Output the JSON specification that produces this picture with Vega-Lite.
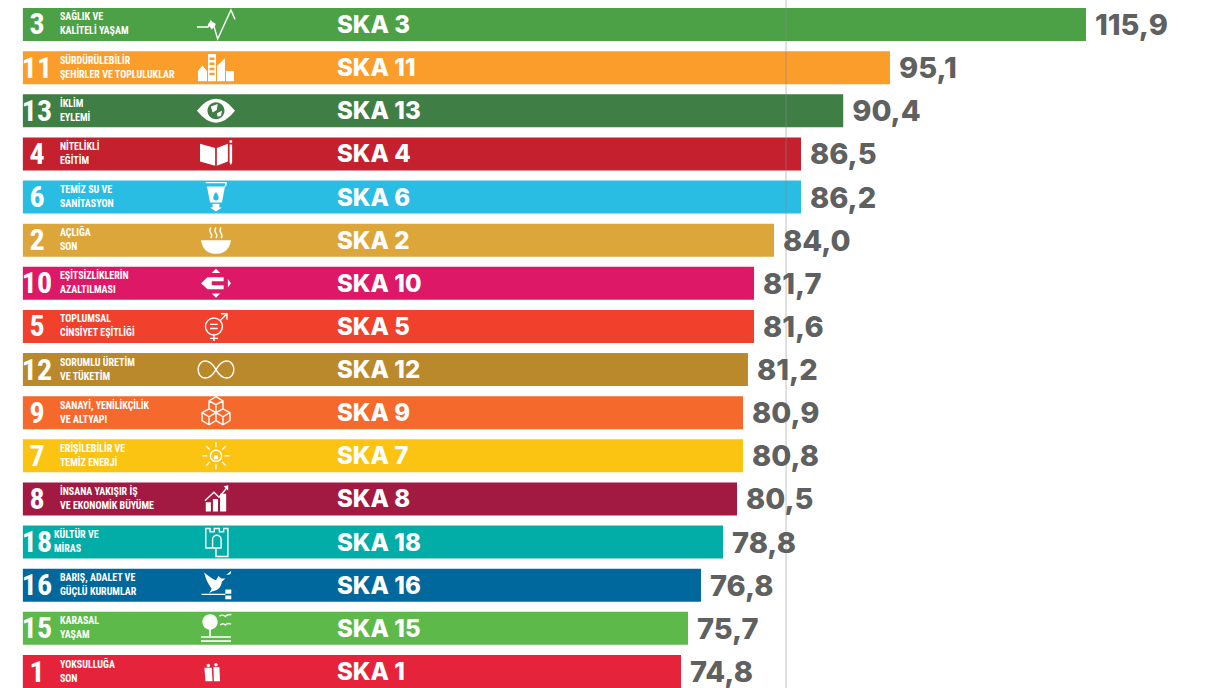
{"$schema":"https://vega.github.io/schema/vega-lite/v6.json","width":1217,"height":688,"padding":0,"autosize":{"type":"none"},"background":"white","config":{"view":{"stroke":null},"locale":{"number":{"decimal":",","thousands":".","grouping":[3],"currency":["","₺"]}}},"data":{"values":[{"goal":"3","name":"SAĞLIK VE\nKALİTELİ YAŞAM","ska":"SKA 3","bar":114.12,"value":115.9},{"goal":"11","name":"SÜRDÜRÜLEBİLİR\nŞEHİRLER VE TOPLULUKLAR","ska":"SKA 11","bar":95.09,"value":95.1},{"goal":"13","name":"İKLİM\nEYLEMİ","ska":"SKA 13","bar":90.55,"value":90.4},{"goal":"4","name":"NİTELİKLİ\nEĞİTİM","ska":"SKA 4","bar":86.45,"value":86.5},{"goal":"6","name":"TEMİZ SU VE\nSANİTASYON","ska":"SKA 6","bar":86.45,"value":86.2},{"goal":"2","name":"AÇLIĞA\nSON","ska":"SKA 2","bar":83.83,"value":84.0},{"goal":"10","name":"EŞİTSİZLİKLERİN\nAZALTILMASI","ska":"SKA 10","bar":81.89,"value":81.7},{"goal":"5","name":"TOPLUMSAL\nCİNSİYET EŞİTLİĞİ","ska":"SKA 5","bar":81.89,"value":81.6},{"goal":"12","name":"SORUMLU ÜRETİM\nVE TÜKETİM","ska":"SKA 12","bar":81.3,"value":81.2},{"goal":"9","name":"SANAYİ, YENİLİKÇİLİK\nVE ALTYAPI","ska":"SKA 9","bar":80.82,"value":80.9},{"goal":"7","name":"ERİŞİLEBİLİR VE\nTEMİZ ENERJİ","ska":"SKA 7","bar":80.82,"value":80.8},{"goal":"8","name":"İNSANA YAKIŞIR İŞ\nVE EKONOMİK BÜYÜME","ska":"SKA 8","bar":80.24,"value":80.5},{"goal":"18","name":"KÜLTÜR VE\nMİRAS","ska":"SKA 18","bar":78.88,"value":78.8},{"goal":"16","name":"BARIŞ, ADALET VE\nGÜÇLÜ KURUMLAR","ska":"SKA 16","bar":76.74,"value":76.8},{"goal":"15","name":"KARASAL\nYAŞAM","ska":"SKA 15","bar":75.48,"value":75.7},{"goal":"1","name":"YOKSULLUĞA\nSON","ska":"SKA 1","bar":74.8,"value":74.8}]},"encoding":{"y":{"field":"ska","type":"nominal","sort":null,"axis":null,"scale":{"range":[8,688],"paddingInner":0.235,"paddingOuter":0}}},"resolve":{"scale":{"shape":"independent"}},"layer":[{"mark":{"type":"bar","cornerRadius":0},"encoding":{"x":{"field":"bar","type":"quantitative","axis":null,"scale":{"domain":[8.68,126.84],"zero":false,"nice":false}},"x2":{"datum":10.9},"color":{"field":"goal","type":"nominal","legend":null,"scale":{"domain":["3","11","13","4","6","2","10","5","12","9","7","8","18","16","15","1"],"range":["#4CA146","#FB9D2A","#3F7E44","#C4202E","#29BDE3","#DDA63A","#DD1867","#F1402B","#BA892B","#F5692D","#FBC412","#A21942","#02ADA8","#00689D","#5CB94A","#E5243B"]}}}},{"data":{"values":[{"ref":85}]},"mark":{"type":"rule","color":"#8a8a8a","opacity":0.35,"strokeWidth":1.5},"encoding":{"y":null,"x":{"field":"ref","type":"quantitative","axis":null,"scale":{"domain":[8.68,126.84],"zero":false,"nice":false}}}},{"mark":{"type":"text","font":"Roboto Condensed, Open Sans Condensed, Noto Sans Condensed, DejaVu Sans Condensed, Roboto","fontWeight":"bold","fontSize":30,"color":"white","align":"center","baseline":"middle","dy":1},"encoding":{"x":{"datum":12.27,"type":"quantitative","axis":null,"scale":{"domain":[8.68,126.84],"zero":false,"nice":false}},"text":{"field":"goal"}}},{"transform":[{"filter":"datum.goal != '18'"}],"mark":{"type":"text","font":"Roboto Condensed, Open Sans Condensed, Noto Sans Condensed, DejaVu Sans Condensed, Roboto","fontWeight":"bold","fontSize":10,"lineHeight":14,"lineBreak":"\n","color":"white","align":"left","baseline":"middle","dy":-7},"encoding":{"x":{"datum":14.5,"type":"quantitative","axis":null,"scale":{"domain":[8.68,126.84],"zero":false,"nice":false}},"text":{"field":"name"}}},{"transform":[{"filter":"datum.goal == '18'"}],"mark":{"type":"text","font":"Roboto Condensed, Open Sans Condensed, Noto Sans Condensed, DejaVu Sans Condensed, Roboto","fontWeight":"bold","fontSize":10,"lineHeight":14,"lineBreak":"\n","color":"white","align":"left","baseline":"middle","dx":-6,"dy":-7},"encoding":{"x":{"datum":14.5,"type":"quantitative","axis":null,"scale":{"domain":[8.68,126.84],"zero":false,"nice":false}},"text":{"field":"name"}}},{"mark":{"type":"point","filled":true,"color":"white","opacity":1,"size":1156,"strokeWidth":0},"encoding":{"x":{"datum":29.65,"type":"quantitative","axis":null,"scale":{"domain":[8.68,126.84],"zero":false,"nice":false}},"shape":{"field":"goal","type":"nominal","legend":null,"scale":{"domain":["3","11","13","4","6","2","10","5","12","9","7","8","18","16","15","1"],"range":["M-0.24 0.3 L-0.45 0.05 C-0.5 -0.1 -0.28 -0.2 -0.24 -0.05 C-0.2 -0.2 0.02 -0.1 -0.03 0.05Z","M-1.06 0.8 L-1.06 0.2 L-0.8 -0.12 L-0.53 0.2 L-0.53 0.8Z M-0.47 0.8 L-0.47 -0.8 L0 -0.8 L0 0.8Z M-0.38 -0.6 L-0.38 -0.45 L-0.09 -0.45 L-0.09 -0.6Z M-0.38 -0.3 L-0.38 -0.15 L-0.09 -0.15 L-0.09 -0.3Z M-0.38 0 L-0.38 0.15 L-0.09 0.15 L-0.09 0Z M-0.38 0.3 L-0.38 0.45 L-0.09 0.45 L-0.09 0.3Z M0.06 0.8 L0.06 -0.1 L0.53 -0.55 L0.53 0.8Z M0.59 0.8 L0.59 0.2 L1.06 0.2 L1.06 0.8Z","M-1.12 0 Q0 -1.4 1.12 0 Q0 1.4 -1.12 0Z M-0.5 0 A0.5 0.5 0 1 0 0.5 0 A0.5 0.5 0 1 0 -0.5 0Z M-0.3 -0.25 L0.1 -0.4 L0.05 -0.05 L-0.2 0.1Z M0.05 0.15 L0.35 0 L0.3 0.3 L0.1 0.35Z","M-0.94 -0.6 L-0.05 -0.35 L-0.05 0.7 L-0.94 0.45Z M0.05 -0.35 L0.7 -0.6 L0.7 0.45 L0.05 0.7Z M0.8 -0.55 L0.95 -0.55 L0.95 0.5 L0.875 0.65 L0.8 0.5Z M0.8 -0.8 L0.95 -0.8 L0.95 -0.65 L0.8 -0.65Z","M-0.53 -0.62 L0.53 -0.62 L0.35 0.32 L-0.35 0.32Z M0 -0.3 C-0.2 -0.05 -0.22 0.2 0 0.2 C0.22 0.2 0.2 -0.05 0 -0.3Z M-0.2 0.4 L0.2 0.4 L0.2 0.62 L0.35 0.62 L0 0.85 L-0.35 0.62 L-0.2 0.62Z","M-0.88 0 L0.88 0 C0.8 0.6 0.4 0.8 0 0.8 C-0.4 0.8 -0.8 0.6 -0.88 0Z","M-0.25 -0.6 L0 -0.85 L0.25 -0.6Z M-0.25 0.6 L0.25 0.6 L0 0.85Z M0.7 -0.25 L0.88 0 L0.7 0.25Z M-0.88 0 L-0.5 -0.35 L0.45 -0.35 L0.45 -0.12 L-0.25 -0.12 L-0.25 0.12 L0.45 0.12 L0.45 0.35 L-0.5 0.35Z","M0 0","M0 0","M0 0","M-0.12 -0.02 L0.12 -0.02 L0.12 0.2 L-0.12 0.2Z","M-0.6 0.73 L-0.6 0.2 L-0.3 0.2 L-0.3 0.73Z M-0.18 0.73 L-0.18 0 L0.12 0 L0.12 0.73Z M0.24 0.73 L0.24 -0.3 L0.6 -0.3 L0.6 0.73Z M0.45 -0.75 L0.72 -0.8 L0.72 -0.5Z","M0 0","M-0.7 -0.75 C-0.4 -0.5 -0.2 -0.35 0 -0.3 L0.15 -0.55 L0.3 -0.4 L0.55 -0.4 L0.35 -0.2 C0.3 0.2 0 0.35 -0.2 0.35 L-0.4 0.45 L-0.25 0.2 C-0.5 -0.1 -0.6 -0.4 -0.7 -0.75Z M-0.85 0.5 L0.55 0.5 L0.55 0.58 L-0.85 0.58Z M0.55 0.25 L0.9 0.25 L0.9 0.5 L0.55 0.5Z M0.55 0.6 L0.9 0.6 L0.9 0.82 L0.55 0.82Z M0.6 -0.6 L0.9 -0.85 L0.85 -0.65Z","M-0.8 -0.38 A0.45 0.45 0 1 1 0.1 -0.38 A0.45 0.45 0 1 1 -0.8 -0.38Z M-0.4 -0.1 L-0.3 -0.1 L-0.3 0.45 L-0.4 0.45Z M-0.88 0.47 L0.88 0.47 L0.88 0.55 L-0.88 0.55Z M-0.88 0.7 L0.88 0.7 L0.88 0.8 L-0.88 0.8Z","M-0.55 -0.35 A0.1 0.1 0 1 1 -0.35 -0.35 A0.1 0.1 0 1 1 -0.55 -0.35Z M-0.68 -0.22 L-0.25 -0.22 L-0.2 0.58 L-0.62 0.58Z M-0.1 -0.4 A0.1 0.1 0 1 1 0.1 -0.4 A0.1 0.1 0 1 1 -0.1 -0.4Z M-0.15 -0.26 L0.2 -0.26 L0.24 0.58 L-0.12 0.58Z"]}}}},{"mark":{"type":"point","filled":false,"color":"white","opacity":1,"size":1156,"strokeWidth":1.4},"encoding":{"x":{"datum":29.65,"type":"quantitative","axis":null,"scale":{"domain":[8.68,126.84],"zero":false,"nice":false}},"shape":{"field":"goal","type":"nominal","legend":null,"scale":{"domain":["3","11","13","4","6","2","10","5","12","9","7","8","18","16","15","1"],"range":["M-1.12 0.15 L-0.47 0.15 L-0.3 -0.2 L-0.15 0 L0.1 0.85 L0.88 -0.85 L1.12 -0.3","M0 0","M0 0","M0 0","M-0.6 -0.85 L0.6 -0.85 L0.55 -0.62","M-0.3 -0.75 Q-0.42 -0.55 -0.3 -0.4 Q-0.2 -0.28 -0.3 -0.12 M0 -0.75 Q-0.12 -0.55 0 -0.4 Q0.1 -0.28 0 -0.12 M0.3 -0.75 Q0.18 -0.55 0.3 -0.4 Q0.4 -0.28 0.3 -0.12","M0 0","M-0.62 0 A0.5 0.5 0 1 1 0.38 0 A0.5 0.5 0 1 1 -0.62 0Z M-0.35 -0.12 L0.1 -0.12 M-0.35 0.12 L0.1 0.12 M-0.12 0.5 L-0.12 0.85 M-0.35 0.7 L0.12 0.7 M0.25 -0.35 L0.65 -0.75 M0.3 -0.75 L0.65 -0.75 L0.65 -0.4","M0 0 C-0.25 -0.45 -0.5 -0.5 -0.65 -0.5 C-0.9 -0.5 -1.05 -0.25 -1.05 0 C-1.05 0.25 -0.9 0.5 -0.65 0.5 C-0.5 0.5 -0.25 0.45 0 0 C0.25 -0.45 0.5 -0.5 0.65 -0.5 C0.9 -0.5 1.05 -0.25 1.05 0 C1.05 0.25 0.9 0.5 0.65 0.5 C0.5 0.5 0.25 0.45 0 0Z","M0 -0.94 L0.41 -0.7 L0.41 -0.23 L0 0 L-0.41 -0.23 L-0.41 -0.7Z M-0.41 -0.7 L0 -0.47 L0.41 -0.7 M0 -0.47 L0 0 M-0.41 -0.23 L-0.82 0 L-0.82 0.47 L-0.41 0.71 L0 0.47 L0 0 M-0.82 0 L-0.41 0.24 L0 0 M-0.41 0.24 L-0.41 0.71 M0.41 -0.23 L0.82 0 L0.82 0.47 L0.41 0.71 L0 0.47 M0 0 L0.41 0.24 L0.82 0 M0.41 0.24 L0.41 0.71","M-0.33 0 A0.33 0.33 0 1 1 0.33 0 A0.33 0.33 0 1 1 -0.33 0Z M0 -0.8 L0 -0.5 M0 0.5 L0 0.8 M-0.8 0 L-0.5 0 M0.5 0 L0.8 0 M-0.57 -0.57 L-0.37 -0.37 M0.57 -0.57 L0.37 -0.37 M-0.57 0.57 L-0.37 0.37 M0.57 0.57 L0.37 0.37","M-0.65 0.1 L-0.12 -0.4 L0.18 -0.1 L0.68 -0.7","M-0.6 -0.8 L-0.35 -0.8 L-0.35 -0.6 L-0.1 -0.6 L-0.1 -0.8 L0.2 -0.8 L0.2 -0.6 L0.45 -0.6 L0.45 -0.8 L0.7 -0.8 L0.7 0.85 L0 0.85 L0 0.35 L-0.6 0.35Z M-0.2 0.35 L-0.2 -0.15 A0.25 0.25 0 0 1 0.3 -0.15 L0.3 0.35 L-0.2 0.35","M0 0","M0.2 -0.72 Q0.4 -0.85 0.55 -0.7 Q0.7 -0.85 0.9 -0.8 M0.25 -0.2 Q0.4 -0.35 0.55 -0.2 Q0.7 -0.35 0.88 -0.25","M0 0"]}}}},{"mark":{"type":"text","font":"Inter","fontWeight":800,"fontSize":24,"color":"white","align":"left","baseline":"middle","dy":1.5},"encoding":{"x":{"datum":41.4,"type":"quantitative","axis":null,"scale":{"domain":[8.68,126.84],"zero":false,"nice":false}},"text":{"field":"ska"}}},{"mark":{"type":"text","font":"Inter","fontWeight":800,"fontSize":29,"color":"#5F6060","align":"left","baseline":"middle","dx":9,"dy":1.5},"encoding":{"x":{"field":"bar","type":"quantitative","axis":null,"scale":{"domain":[8.68,126.84],"zero":false,"nice":false}},"text":{"field":"value","type":"quantitative","format":".1f"}}}]}
